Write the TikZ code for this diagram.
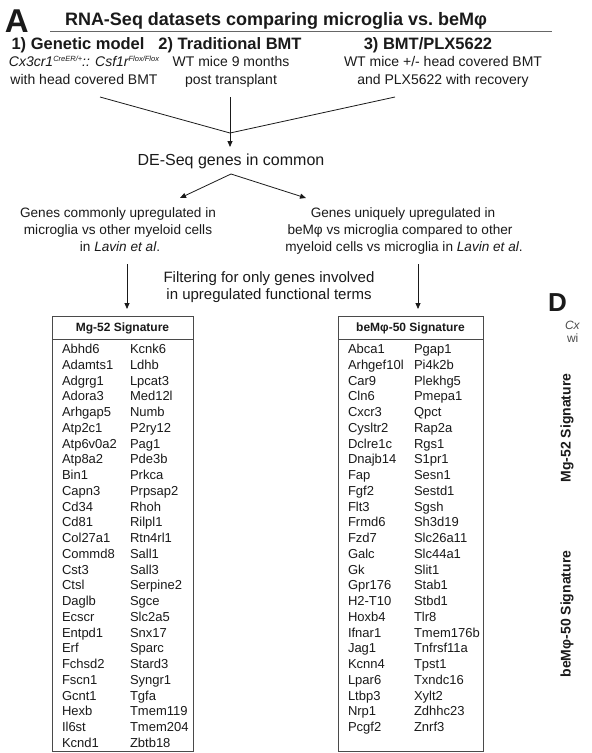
\documentclass[tikz,border=0pt]{standalone}
\usepackage{fontspec}
\setmainfont{Liberation Sans}
\usetikzlibrary{arrows.meta}
\newcommand{\fsz}[1]{\fontsize{#1}{#1}\selectfont}
\newcommand{\tinysup}[1]{\raisebox{4.5pt}{\fontsize{7.5}{7.5}\selectfont #1}}
\definecolor{ink}{HTML}{1A1A1A}
\definecolor{boxline}{HTML}{4A4A4A}
\begin{document}
\begin{tikzpicture}[x=1pt,y=-1pt,
  txt/.style={inner sep=0pt,outer sep=0pt,text=ink,anchor=base},
  bigletter/.style={txt,anchor=base west,font=\bfseries\fsz{33}},
  titletxt/.style={txt,font=\bfseries\fsz{18}},
  headtxt/.style={txt,font=\bfseries\fsz{16.5}},
  subtxt/.style={txt,font=\fsz{14}},
  midtxt/.style={txt,font=\fsz{16}},
  blocktxt/.style={txt,font=\fsz{13.6}},
  filtxt/.style={txt,font=\fsz{15}},
  gene/.style={txt,anchor=base west,font=\fsz{13}},
  tabhead/.style={txt,font=\bfseries\fsz{12}},
  conn/.style={draw=ink,line width=0.8pt},
  arr/.style={conn,-{Triangle[length=6pt,width=5pt]}},
  tabbox/.style={draw=boxline,line width=0.9pt},
  sidetxt/.style={txt,font=\bfseries\fsz{14},rotate=90,anchor=center},
  cuttxt/.style={txt,anchor=base west,font=\fsz{12},text=black!70}
]
\useasboundingbox (0,0) rectangle (592,753);
\fill[white] (0,0) rectangle (592,753);

% ---- header ----
\node[bigletter] (A) at (5,32) {A};
\node[titletxt] (title) at (276,25) {RNA-Seq datasets comparing microglia vs.\ beMφ};
\coordinate (ul1) at (50,31.5);
\coordinate (ul2) at (552,31.5);
\draw[conn,draw=black!60] (ul1) -- (ul2);

\node[headtxt] (h1) at (78,49) {1) Genetic model};
\node[headtxt] (h2) at (230,49) {2) Traditional BMT};
\node[headtxt] (h3) at (428,49) {3) BMT/PLX5622};

\node[subtxt] (s1a) at (84,66) {\itshape Cx3cr1\tinysup{CreER/+}:: Csf1r\tinysup{Flox/Flox}};
\node[subtxt] (s1b) at (84,84) {with head covered BMT};
\node[subtxt] (s2a) at (231,66) {WT mice 9 months};
\node[subtxt] (s2b) at (231,84) {post transplant};
\node[subtxt] (s3a) at (443,66) {WT mice +/- head covered BMT};
\node[subtxt] (s3b) at (443,84) {and PLX5622 with recovery};

% ---- merge lines ----
\coordinate (c1) at (100,97);
\coordinate (c2) at (230,97);
\coordinate (c3) at (395,97);
\coordinate (apex) at (230,133);
\coordinate (tipDE) at (230,147);
\draw[conn] (c1) -- (apex);
\draw[conn] (c3) -- (apex);
\draw[arr] (c2) -- (tipDE);

\node[midtxt] (de) at (231,165) {DE-Seq genes in common};

\coordinate (deb) at (231,174);
\coordinate (tipL) at (180,198);
\coordinate (tipR) at (306,198);
\draw[arr] (deb) -- (tipL);
\draw[arr] (deb) -- (tipR);

\node[blocktxt] (l1) at (118,217) {Genes commonly upregulated in};
\node[blocktxt] (l2) at (118,234) {microglia vs other myeloid cells};
\node[blocktxt] (l3) at (120,251) {in \textit{Lavin et al}.};

\node[blocktxt] (r1) at (403,217) {Genes uniquely upregulated in};
\node[blocktxt] (r2) at (400,234) {beMφ vs microglia compared to other};
\node[blocktxt] (r3) at (404,251) {myeloid cells vs microglia in \textit{Lavin et al}.};

\node[filtxt] (f1) at (269,282) {Filtering for only genes involved};
\node[filtxt] (f2) at (269,299) {in upregulated functional terms};

\coordinate (la) at (127,264);
\coordinate (lb) at (127,309);
\coordinate (ra) at (418,264);
\coordinate (rb) at (418,309);
\draw[arr] (la) -- (lb);
\draw[arr] (ra) -- (rb);

% ---- tables ----
\draw[tabbox] (52,316) rectangle (193,751.5);
\draw[tabbox] (52,339) -- (193,339);
\node[tabhead] (mgh) at (122.5,331) {Mg-52 Signature};

\draw[tabbox] (338,316) rectangle (483,751.5);
\draw[tabbox] (338,339) -- (483,339);
\node[tabhead] (beh) at (410.5,331) {beMφ-50 Signature};

\foreach \g [count=\i from 0] in {Abhd6,Adamts1,Adgrg1,Adora3,Arhgap5,Atp2c1,Atp6v0a2,Atp8a2,Bin1,Capn3,Cd34,Cd81,Col27a1,Commd8,Cst3,Ctsl,Daglb,Ecscr,Entpd1,Erf,Fchsd2,Fscn1,Gcnt1,Hexb,Il6st,Kcnd1}
  \node[gene] (mga\i) at (62,353.7+\i*15.75) {\g};
\foreach \g [count=\i from 0] in {Kcnk6,Ldhb,Lpcat3,Med12l,Numb,P2ry12,Pag1,Pde3b,Prkca,Prpsap2,Rhoh,Rilpl1,Rtn4rl1,Sall1,Sall3,Serpine2,Sgce,Slc2a5,Snx17,Sparc,Stard3,Syngr1,Tgfa,Tmem119,Tmem204,Zbtb18}
  \node[gene] (mgb\i) at (130,353.7+\i*15.75) {\g};
\foreach \g [count=\i from 0] in {Abca1,Arhgef10l,Car9,Cln6,Cxcr3,Cysltr2,Dclre1c,Dnajb14,Fap,Fgf2,Flt3,Frmd6,Fzd7,Galc,Gk,Gpr176,H2-T10,Hoxb4,Ifnar1,Jag1,Kcnn4,Lpar6,Ltbp3,Nrp1,Pcgf2}
  \node[gene] (bea\i) at (348,353.7+\i*15.75) {\g};
\foreach \g [count=\i from 0] in {Pgap1,Pi4k2b,Plekhg5,Pmepa1,Qpct,Rap2a,Rgs1,S1pr1,Sesn1,Sestd1,Sgsh,Sh3d19,Slc26a11,Slc44a1,Slit1,Stab1,Stbd1,Tlr8,Tmem176b,Tnfrsf11a,Tpst1,Txndc16,Xylt2,Zdhhc23,Znrf3}
  \node[gene] (beb\i) at (414,353.7+\i*15.75) {\g};

% ---- panel D (cut) ----
\node[txt,anchor=base west,font=\bfseries\fsz{26}] (D) at (548,311) {D};
\node[cuttxt] (cx) at (565,329) {\itshape Cx};
\node[cuttxt] (wi) at (567,342) {wi};
\node[sidetxt] (sideMg) at (567,428) {Mg-52 Signature};
\node[sidetxt] (sideBe) at (567,614) {beMφ-50 Signature};
\end{tikzpicture}
\end{document}
